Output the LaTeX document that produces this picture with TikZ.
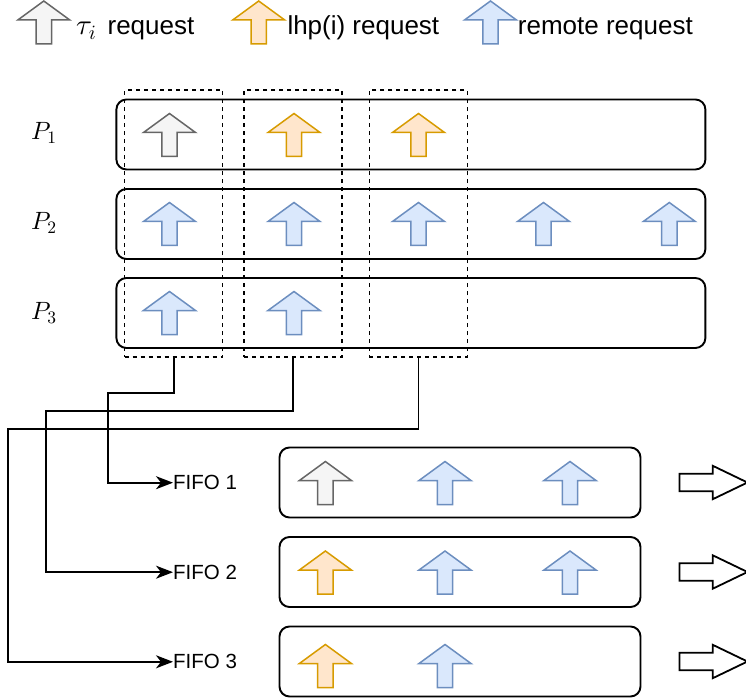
\documentclass[tikz,border=0pt]{standalone}
\usepackage[no-math]{fontspec}
\setmainfont{Liberation Sans}
% scalable Computer Modern for the math labels
\DeclareFontFamily{OML}{cmm}{\skewchar\font127 }
\DeclareFontShape{OML}{cmm}{m}{it}{<-> cmmi10}{}
\DeclareFontFamily{OT1}{cmr}{\hyphenchar\font45 }
\DeclareFontShape{OT1}{cmr}{m}{n}{<-> cmr10}{}
\DeclareFontFamily{OMS}{cmsy}{\skewchar\font48 }
\DeclareFontShape{OMS}{cmsy}{m}{n}{<-> cmsy10}{}
\usetikzlibrary{arrows.meta}

\definecolor{taufill}{HTML}{F5F5F5}
\definecolor{taudraw}{HTML}{666666}
\definecolor{lhpfill}{HTML}{FFE6CC}
\definecolor{lhpdraw}{HTML}{D79B00}
\definecolor{remfill}{HTML}{DAE8FC}
\definecolor{remdraw}{HTML}{6C8EBF}

\begin{document}
\begin{tikzpicture}[x=1pt,y=-1pt,
  % block arrow pointing up, centred on its position; #1 = tau, lhp or rem
  uparr/.pic={\path[fill=#1fill,draw=#1draw,line width=1.5pt,line join=miter]
      (-7.7,21.5) -- (-7.7,-2.5) -- (-26,-2.5) -- (0,-21.5) -- (26,-2.5)
      -- (7.7,-2.5) -- (7.7,21.5) -- cycle;},
  % hollow block arrow pointing right, starting at its position
  outarr/.pic={\draw[line width=1.8pt,fill=white,line join=miter]
      (0,-8.8) -- (33.3,-8.8) -- (33.3,-16.7) -- (68,0) -- (33.3,16.7)
      -- (33.3,8.8) -- (0,8.8) -- cycle;},
  legtext/.style={anchor=base west,inner sep=0pt,font=\fontsize{26}{30}\selectfont},
  proclbl/.style={anchor=base west,inner sep=0pt,font=\fontsize{25}{30}\selectfont},
  rowbox/.style={draw,line width=1.9pt,rounded corners=10pt,
      minimum width=589pt,minimum height=70pt,inner sep=0pt},
  colbox/.style={draw,line width=1.5pt,dash pattern=on 4pt off 4pt,
      minimum width=98pt,minimum height=267pt,inner sep=0pt},
  fifobox/.style={draw,line width=1.9pt,rounded corners=10pt,
      minimum width=361pt,minimum height=70pt,inner sep=0pt},
  fifolbl/.style={anchor=west,inner sep=0pt,text depth=0pt,
      font=\fontsize{20.5}{24}\selectfont},
  conn/.style={line width=1.7pt,
      -{Stealth[length=17pt,width=13pt,inset=5pt]}},
]
\useasboundingbox (0,0) rectangle (746,700);

% legend
\pic at (43.8,22.5) {uparr=tau};
\node[legtext] (legtau) at (76,35)
  {{\fontsize{29}{30}\selectfont$\tau_i$}\hspace{4pt} request};
\pic at (258.7,22.5) {uparr=lhp};
\node[legtext] (leglhp) at (287.3,35) {lhp(i) request};
\pic at (490.5,22.5) {uparr=rem};
\node[legtext] (legrem) at (517.7,35) {remote request};

% processor rows
\node[proclbl] (lp1) at (31,140) {$P_1$};
\node[proclbl] (lp2) at (31,229.5) {$P_2$};
\node[proclbl] (lp3) at (31,319.5) {$P_3$};
\node[rowbox] (p1) at (410.9,134.5) {};
\node[rowbox] (p2) at (410.9,224) {};
\node[rowbox] (p3) at (410.9,313) {};

\pic at (169.5,135) {uparr=tau};
\pic at (294,135) {uparr=lhp};
\pic at (418.5,135) {uparr=lhp};

\pic at (169.5,224) {uparr=rem};
\pic at (294,224) {uparr=rem};
\pic at (418.5,224) {uparr=rem};
\pic at (543.5,224) {uparr=rem};
\pic at (669.3,224) {uparr=rem};

\pic at (169.5,313) {uparr=rem};
\pic at (294,313) {uparr=rem};

% dashed request groups
\node[colbox] (col1) at (173.7,223.7) {};
\node[colbox] (col2) at (293.2,223.7) {};
\node[colbox] (col3) at (418.4,223.7) {};

% FIFO queues
\node[fifobox] (q1) at (460,482.5) {};
\node[fifobox] (q2) at (460,572) {};
\node[fifobox] (q3) at (460,661.5) {};
\node[fifolbl] (f1) at (173,482.7) {FIFO 1};
\node[fifolbl] (f2) at (173,572.2) {FIFO 2};
\node[fifolbl] (f3) at (173,661.8) {FIFO 3};

\pic at (325.4,483) {uparr=tau};
\pic at (445,483) {uparr=rem};
\pic at (570,483) {uparr=rem};

\pic at (325.4,572.5) {uparr=lhp};
\pic at (445,572.5) {uparr=rem};
\pic at (570,572.5) {uparr=rem};

\pic at (325.4,666) {uparr=lhp};
\pic at (445,666) {uparr=rem};

\pic at ([xshift=38pt]q1.east) {outarr};
\pic at ([xshift=38pt]q2.east) {outarr};
\pic at ([xshift=38pt]q3.east) {outarr};

% routing of each group into its FIFO
\coordinate (b1) at (107.7,392.7);
\coordinate (b2) at (45.7,411);
\coordinate (b3) at (8.3,429.3);
\draw[conn] (col1.south) |- (b1) |- (f1.west);
\draw[conn] (col2.south) |- (b2) |- (f2.west);
\draw[conn] (col3.south) |- (b3) |- (f3.west);
\end{tikzpicture}
\end{document}
